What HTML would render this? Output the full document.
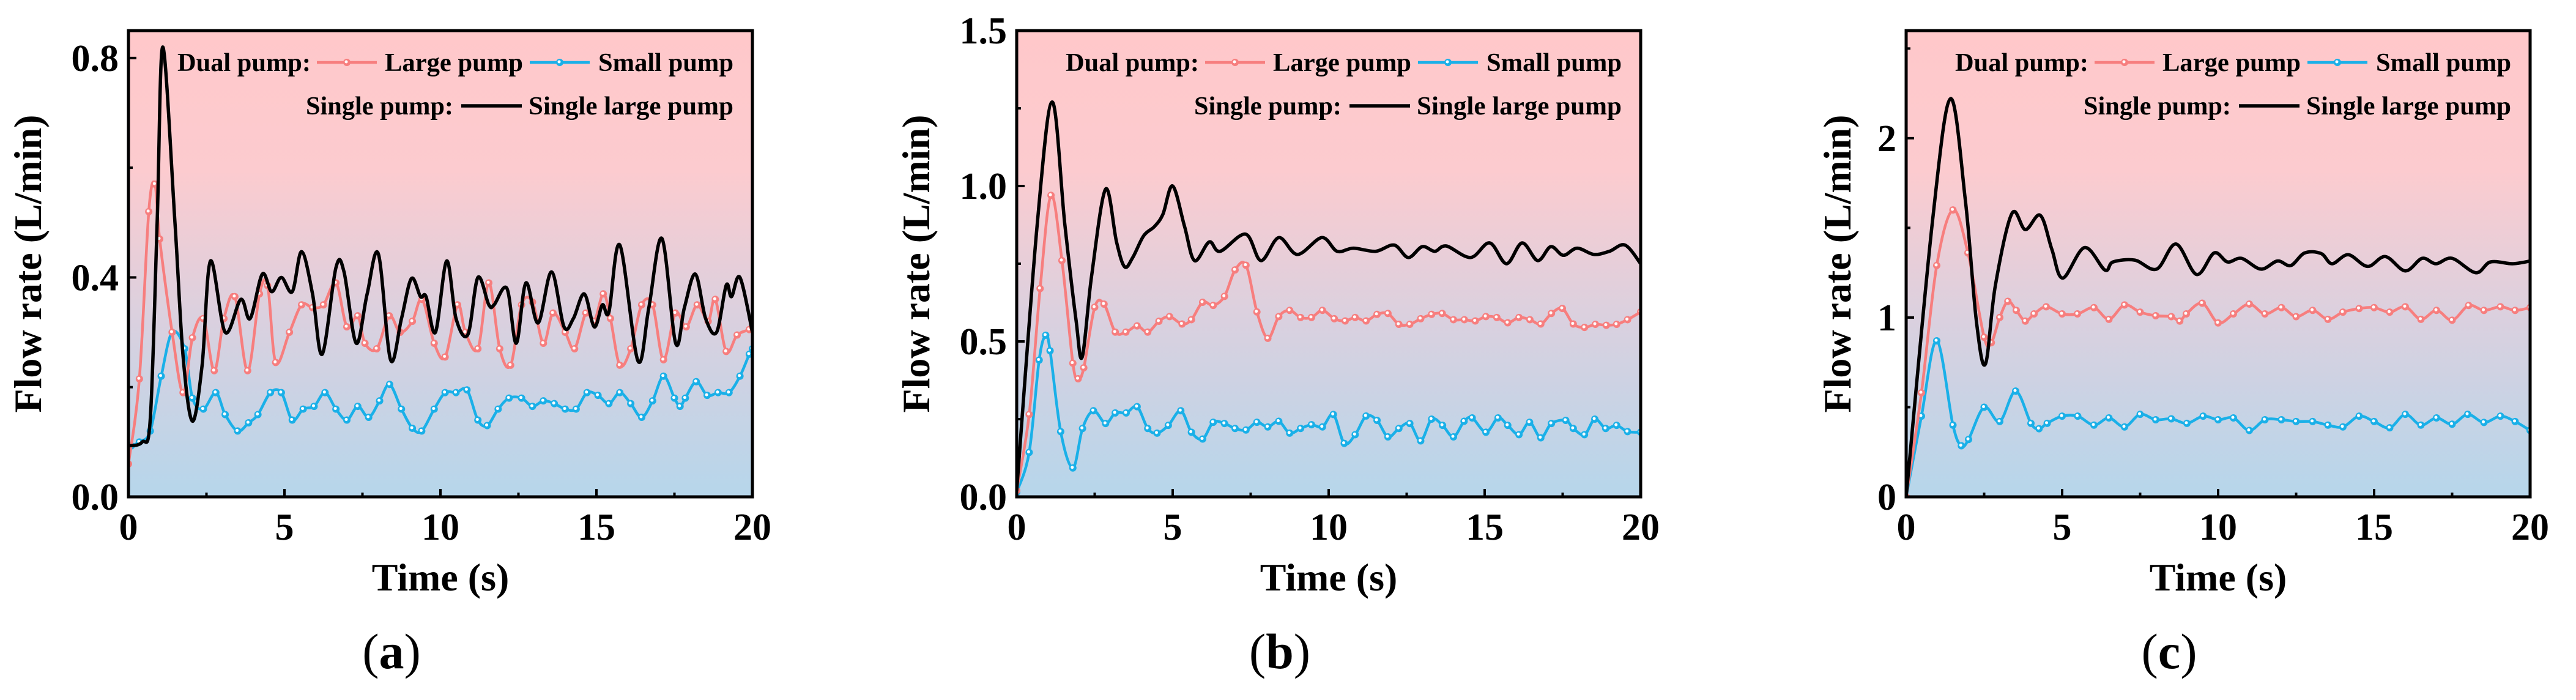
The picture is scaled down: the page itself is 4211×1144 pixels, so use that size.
<!DOCTYPE html>
<html><head><meta charset="utf-8">
<style>
html,body{margin:0;padding:0;background:#fff;}
svg{display:block;}
text{font-family:"Liberation Serif",serif;}
</style></head>
<body>
<svg id="fig" width="4211" height="1144" viewBox="0 0 4211 1144" xmlns="http://www.w3.org/2000/svg">
<defs>
<linearGradient id="bg" x1="0" y1="0" x2="0" y2="1">
<stop offset="0" stop-color="#ffc8ca"/>
<stop offset="0.3" stop-color="#fccbcf"/>
<stop offset="0.6" stop-color="#dcd0de"/>
<stop offset="1" stop-color="#b6d6eb"/>
</linearGradient>
</defs>
</svg>
<script>
// ---- Panel (a) data ----
const aLargeT=[0,0.35,0.65,0.85,1.0,1.4,1.75,2.05,2.4,2.75,3.06,3.41,3.82,4.2,4.46,4.72,5.16,5.55,5.9,6.25,6.65,7.0,7.35,7.58,7.96,8.36,8.71,9.1,9.41,9.8,10.15,10.55,10.8,11.2,11.55,11.9,12.25,12.6,12.95,13.3,13.61,14.0,14.3,14.66,14.93,15.22,15.45,15.75,16.1,16.45,16.8,17.15,17.53,17.88,18.23,18.58,18.81,19.16,19.51,19.9,20];
const aLargeV=[0.06,0.215,0.52,0.57,0.47,0.30,0.19,0.29,0.325,0.23,0.325,0.365,0.23,0.37,0.385,0.245,0.30,0.35,0.345,0.35,0.39,0.31,0.33,0.28,0.27,0.33,0.30,0.32,0.36,0.28,0.255,0.35,0.30,0.27,0.39,0.27,0.24,0.35,0.355,0.28,0.335,0.30,0.27,0.335,0.32,0.37,0.325,0.24,0.27,0.35,0.35,0.25,0.335,0.31,0.35,0.32,0.36,0.265,0.295,0.305,0.31];
const aSmallT=[0.09,0.35,0.7,1.05,1.4,1.8,2.05,2.4,2.8,3.1,3.5,3.85,4.15,4.55,4.9,5.25,5.6,5.95,6.3,6.65,7.0,7.35,7.7,8.05,8.37,8.75,9.1,9.4,9.8,10.15,10.5,10.85,11.2,11.5,11.85,12.2,12.6,12.95,13.3,13.65,14.0,14.35,14.7,15.05,15.4,15.75,16.1,16.45,16.8,17.15,17.5,17.68,17.85,18.2,18.55,18.9,19.25,19.6,19.9,20];
const aSmallV=[0.093,0.10,0.12,0.22,0.30,0.27,0.18,0.16,0.19,0.15,0.12,0.135,0.15,0.19,0.19,0.14,0.16,0.165,0.19,0.16,0.14,0.165,0.145,0.175,0.205,0.16,0.125,0.12,0.16,0.19,0.19,0.195,0.14,0.13,0.16,0.18,0.18,0.165,0.175,0.17,0.16,0.16,0.19,0.185,0.17,0.19,0.17,0.145,0.175,0.22,0.18,0.165,0.18,0.21,0.185,0.19,0.19,0.22,0.26,0.27];
const aSingleT=[0,0.44,0.7,0.92,1.1,1.49,1.75,2.05,2.36,2.63,3.1,3.6,3.9,4.29,4.59,4.9,5.25,5.55,5.9,6.21,6.65,6.91,7.3,7.65,8.01,8.4,8.75,9.07,9.36,9.54,9.84,10.2,10.5,10.88,11.2,11.55,11.72,12.13,12.43,12.74,13.13,13.56,13.96,14.26,14.61,14.93,15.19,15.4,15.75,16.33,16.68,17.1,17.54,17.82,18.17,18.5,18.85,19.16,19.33,19.6,20];
const aSingleV=[0.093,0.10,0.143,0.50,0.82,0.50,0.256,0.138,0.24,0.43,0.30,0.36,0.325,0.406,0.374,0.40,0.374,0.447,0.37,0.26,0.418,0.41,0.28,0.37,0.443,0.25,0.325,0.398,0.365,0.365,0.30,0.43,0.325,0.296,0.40,0.35,0.35,0.38,0.28,0.39,0.317,0.41,0.31,0.325,0.37,0.31,0.35,0.337,0.459,0.248,0.345,0.471,0.28,0.345,0.406,0.325,0.30,0.386,0.365,0.40,0.30];
const aYTicks=[0,0.4,0.8];
const aYTickLabels=["0.0","0.4","0.8"];
// ---- Panel (b) data ----
const bLargeT=[0,0.4,0.75,1.1,1.45,1.8,1.97,2.15,2.5,2.8,3.16,3.5,3.86,4.2,4.56,4.9,5.3,5.6,5.96,6.3,6.66,7.0,7.35,7.7,8.05,8.4,8.75,9.1,9.45,9.8,10.18,10.53,10.85,11.2,11.55,11.9,12.25,12.6,12.95,13.3,13.64,14.0,14.35,14.7,15.04,15.39,15.74,16.1,16.45,16.8,17.14,17.49,17.84,18.2,18.55,18.9,19.23,19.58,20];
const bLargeV=[0.02,0.265,0.67,0.97,0.76,0.43,0.38,0.415,0.61,0.62,0.53,0.53,0.55,0.53,0.565,0.58,0.556,0.57,0.626,0.616,0.645,0.73,0.745,0.595,0.51,0.58,0.60,0.577,0.577,0.60,0.573,0.566,0.577,0.566,0.587,0.59,0.555,0.555,0.573,0.587,0.59,0.57,0.57,0.566,0.58,0.577,0.56,0.577,0.57,0.556,0.59,0.606,0.556,0.545,0.555,0.552,0.555,0.57,0.595];
const bSmallT=[0,0.4,0.72,0.93,1.07,1.41,1.8,2.11,2.46,2.85,3.16,3.51,3.86,4.2,4.5,4.86,5.26,5.6,5.96,6.3,6.66,7.0,7.35,7.7,8.05,8.4,8.75,9.1,9.45,9.8,10.15,10.5,10.85,11.2,11.55,11.9,12.25,12.6,12.95,13.3,13.65,14.0,14.34,14.6,15.04,15.43,15.74,16.1,16.44,16.8,17.14,17.6,17.84,18.2,18.53,18.88,19.23,19.58,20];
const bSmallV=[0.015,0.143,0.44,0.52,0.47,0.21,0.093,0.22,0.277,0.236,0.27,0.27,0.29,0.22,0.205,0.23,0.277,0.208,0.186,0.24,0.236,0.22,0.215,0.24,0.225,0.243,0.205,0.22,0.232,0.225,0.265,0.172,0.20,0.26,0.246,0.193,0.22,0.236,0.18,0.25,0.23,0.193,0.243,0.254,0.208,0.254,0.23,0.20,0.24,0.19,0.236,0.246,0.22,0.20,0.25,0.22,0.23,0.21,0.208];
const bSingleT=[0,0.66,1.14,1.54,1.9,2.1,2.4,2.85,3.2,3.46,3.72,4.07,4.42,4.69,5.0,5.38,5.7,6.17,6.52,7.34,7.83,8.4,9.0,9.78,10.27,10.79,11.5,12.1,12.55,13.0,13.4,13.77,14.55,15.16,15.7,16.2,16.7,17.12,17.52,17.96,18.5,19.0,19.5,20];
const bSingleV=[0.02,0.88,1.27,0.88,0.57,0.45,0.71,0.99,0.82,0.74,0.77,0.84,0.87,0.91,1.0,0.87,0.76,0.82,0.79,0.845,0.76,0.834,0.78,0.834,0.79,0.80,0.79,0.81,0.77,0.805,0.79,0.807,0.77,0.817,0.75,0.817,0.76,0.805,0.777,0.80,0.78,0.79,0.81,0.75];
const bYTicks=[0,0.5,1.0,1.5];
const bYTickLabels=["0.0","0.5","1.0","1.5"];
// ---- Panel (c) data ----
const cLargeT=[0,0.49,0.98,1.5,1.98,2.5,2.73,3.0,3.26,3.53,3.82,4.1,4.49,5.0,5.49,6.02,6.5,7.0,7.5,8.0,8.5,8.77,8.98,9.49,10.0,10.49,11.0,11.5,12.03,12.5,13.03,13.52,14.0,14.52,15.0,15.5,16.0,16.5,17.0,17.5,18.03,18.52,19.05,19.52,20];
const cLargeV=[0,0.58,1.29,1.60,1.36,0.89,0.86,1.0,1.09,1.04,0.98,1.02,1.06,1.02,1.02,1.055,0.99,1.07,1.03,1.01,1.005,0.98,1.02,1.08,0.97,1.02,1.075,1.02,1.055,1.005,1.04,0.99,1.03,1.05,1.055,1.03,1.06,0.99,1.04,0.985,1.067,1.04,1.06,1.04,1.055];
const cSmallT=[0,0.49,0.98,1.5,1.77,2.0,2.5,3.0,3.51,4.0,4.26,4.52,5.0,5.5,6.02,6.5,7.0,7.5,8.0,8.5,9.0,9.52,10.0,10.49,11.0,11.5,12.03,12.5,13.03,13.52,14.0,14.52,15.0,15.5,16.0,16.5,17.0,17.5,18.0,18.52,19.05,19.52,20];
const cSmallV=[0,0.45,0.87,0.40,0.285,0.32,0.50,0.42,0.59,0.41,0.38,0.41,0.45,0.45,0.40,0.44,0.39,0.46,0.43,0.435,0.41,0.45,0.43,0.44,0.37,0.43,0.43,0.42,0.42,0.40,0.39,0.45,0.42,0.385,0.46,0.40,0.44,0.405,0.46,0.415,0.45,0.42,0.37];
const cSingleT=[0,0.84,1.42,1.9,2.25,2.54,2.86,3.39,3.82,4.3,4.67,5.02,5.72,6.37,6.63,7.33,8.03,8.65,9.31,9.87,10.3,10.75,11.37,11.9,12.33,12.77,13.3,13.65,14.17,14.79,15.36,16.0,16.54,16.98,17.5,18.26,18.73,19.43,20];
const cSingleV=[0,1.53,2.22,1.65,0.98,0.74,1.18,1.58,1.49,1.57,1.38,1.22,1.39,1.265,1.31,1.32,1.27,1.41,1.24,1.36,1.31,1.33,1.27,1.315,1.29,1.36,1.357,1.30,1.35,1.285,1.34,1.26,1.33,1.30,1.33,1.25,1.31,1.30,1.315];
const cYTicks=[0,1,2];
const cYTickLabels=["0","1","2"];
const xTicks=[0,5,10,15,20];
const xTickLabels=["0","5","10","15","20"];

const NS="http://www.w3.org/2000/svg";
const svg=document.getElementById('fig');
function mk(tag,attrs,parent){const e=document.createElementNS(NS,tag);for(const k in attrs)e.setAttribute(k,attrs[k]);(parent||svg).appendChild(e);return e;}
function smooth(pts){
  let d=`M${pts[0][0]},${pts[0][1]}`;
  for(let i=0;i<pts.length-1;i++){
    const p0=pts[Math.max(0,i-1)],p1=pts[i],p2=pts[i+1],p3=pts[Math.min(pts.length-1,i+2)];
    const c1x=p1[0]+(p2[0]-p0[0])/6,c1y=p1[1]+(p2[1]-p0[1])/6;
    const c2x=p2[0]-(p3[0]-p1[0])/6,c2y=p2[1]-(p3[1]-p1[1])/6;
    d+=` C${c1x.toFixed(1)},${c1y.toFixed(1)} ${c2x.toFixed(1)},${c2y.toFixed(1)} ${p2[0].toFixed(1)},${p2[1].toFixed(1)}`;
  }
  return d;
}
const TOP=50,BOT=812;
function panel(cfg){
  const L=cfg.L,R=cfg.L+1020;
  const g=mk('g',{});
  
  
  const xs=t=>L+t/20*(R-L);
  const ys=v=>BOT-v/cfg.ymax*(BOT-TOP);
  const bg=mk('rect',{x:L,y:TOP,width:R-L,height:BOT-TOP,fill:'url(#bg)'},g);
  
  
  const clip=mk('clipPath',{id:'clip'+cfg.id},g);
  mk('rect',{x:L,y:TOP,width:R-L,height:BOT-TOP},clip);
  const series=[
    {T:cfg.sT,V:cfg.sV,c:'#1ab0e8',m:true,n:'small-pump-line'},
    {T:cfg.lT,V:cfg.lV,c:'#f77e7e',m:true,n:'large-pump-line'},
    {T:cfg.gT,V:cfg.gV,c:'#000',m:false,n:'single-large-pump-line'}];
  series.forEach(s=>{
    const sg=mk('g',{'clip-path':`url(#clip${cfg.id})`},g);
    
    
    const pts=s.T.map((t,i)=>[xs(t),ys(s.V[i])]);
    mk('path',{d:smooth(pts),fill:'none',stroke:s.c,'stroke-width':s.m?4.5:5.5,'stroke-linejoin':'round'},sg);
    if(s.m){pts.forEach(p=>{
      const c=mk('circle',{cx:p[0],cy:p[1],r:6,fill:s.c},sg);
      
      
      mk('circle',{cx:p[0]-1,cy:p[1]-1,r:2.5,fill:'#fff'},sg);
    });}
  });
  xTicks.forEach((t,i)=>{
    mk('line',{x1:xs(t),x2:xs(t),y1:BOT,y2:BOT-13,stroke:'#000','stroke-width':4},g);
    if(i<xTicks.length-1)mk('line',{x1:xs(t+2.5),x2:xs(t+2.5),y1:BOT,y2:BOT-7,stroke:'#000','stroke-width':4},g);
    const tx=mk('text',{x:xs(t),y:882,'font-size':62,'font-weight':'bold','text-anchor':'middle'},g);
    tx.textContent=xTickLabels[i];
    
    
  });
  cfg.yT.forEach((v,i)=>{
    mk('line',{x1:L,x2:L+13,y1:ys(v),y2:ys(v),stroke:'#000','stroke-width':4},g);
    const mv=v+cfg.yminor; if(mv<cfg.ymax)mk('line',{x1:L,x2:L+7,y1:ys(mv),y2:ys(mv),stroke:'#000','stroke-width':4},g);
    const tx=mk('text',{x:L-16,y:ys(v)+21,'font-size':62,'font-weight':'bold','text-anchor':'end'},g);
    tx.textContent=cfg.yL[i];
    
    
  });
  const fr=mk('rect',{x:L,y:TOP,width:R-L,height:BOT-TOP,fill:'none',stroke:'#000','stroke-width':5},g);
  
  
  const xt=mk('text',{x:(L+R)/2,y:965,'font-size':64,'font-weight':'bold','text-anchor':'middle'},g);
  xt.textContent='Time (s)';
  
  
  const yt=mk('text',{x:0,y:0,'font-size':64,'font-weight':'bold','text-anchor':'middle',transform:`translate(${L-cfg.yto},431) rotate(-90)`},g);
  yt.textContent='Flow rate (L/min)';
  
  
  const pl=mk('text',{x:(L+R)/2-80,y:1092,'font-size':82,'text-anchor':'middle'},g);
  pl.innerHTML='(<tspan font-weight="bold">'+cfg.id+'</tspan>)';
  
  
  const lg=mk('g',{},g);
  
  
  function lt(x0,x1,y,s){const t=mk('text',{x:x0,y:y,'font-size':42,'font-weight':'bold',textLength:x1-x0,lengthAdjust:'spacingAndGlyphs'},lg);t.textContent=s;
    
    }
  function ll(x0,x1,y,c,m){mk('line',{x1:x0,x2:x1,y1:y,y2:y,stroke:c,'stroke-width':m?4.5:5.5},lg);
    if(m){mk('circle',{cx:(x0+x1)/2,cy:y,r:6,fill:c},lg);mk('circle',{cx:(x0+x1)/2-1,cy:y-1,r:2.5,fill:'#fff'},lg);}}
  lt(R-940,R-722,116,'Dual pump:');
  ll(R-712,R-614,102,'#f77e7e',true);
  lt(R-601,R-375,116,'Large pump');
  ll(R-364,R-266,102,'#1ab0e8',true);
  lt(R-252,R-31,116,'Small pump');
  lt(R-730,R-489,187,'Single pump:');
  ll(R-476,R-377,173,'#000',false);
  lt(R-366,R-31,187,'Single large pump');
}
panel({id:'a',name:'panel-a',L:210,ymax:0.85,yminor:0.2,yT:aYTicks,yL:aYTickLabels,yto:143,lT:aLargeT,lV:aLargeV,sT:aSmallT,sV:aSmallV,gT:aSingleT,gV:aSingleV});
panel({id:'b',name:'panel-b',L:1662,ymax:1.5,yminor:0.25,yT:bYTicks,yL:bYTickLabels,yto:143,lT:bLargeT,lV:bLargeV,sT:bSmallT,sV:bSmallV,gT:bSingleT,gV:bSingleV});
panel({id:'c',name:'panel-c',L:3116,ymax:2.6,yminor:0.5,yT:cYTicks,yL:cYTickLabels,yto:91,lT:cLargeT,lV:cLargeV,sT:cSmallT,sV:cSmallV,gT:cSingleT,gV:cSingleV});
</script>
</body></html>
